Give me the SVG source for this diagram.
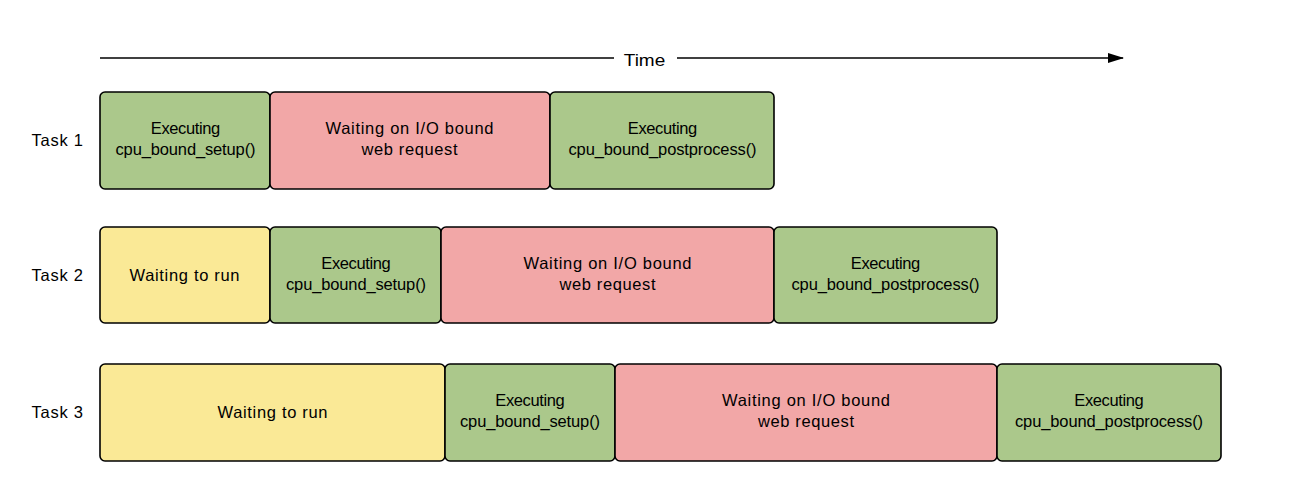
<svg xmlns="http://www.w3.org/2000/svg" width="1315" height="487" viewBox="0 0 1315 487">
<defs>
<style>
text{font-family:"Liberation Sans",Arial,sans-serif;font-size:16.5px;fill:#000;text-anchor:middle}
.lbl{text-anchor:start}
.box{stroke:#000;stroke-width:1.6}
.exec{fill:#abc88b}
.wait{fill:#f2a7a7}
.idle{fill:#fae996}
.axis{stroke:#000;stroke-width:1.3;fill:none}
</style>
<marker id="arr" viewBox="0 0 16 10" refX="15" refY="5" markerWidth="16" markerHeight="10" markerUnits="userSpaceOnUse" orient="auto">
<path d="M0,0 L16,5 L0,10 Z" fill="#000"/>
</marker>
</defs>
<rect width="1315" height="487" fill="#fff"/>
<g id="connectors">
<line class="axis" x1="100" y1="58" x2="614" y2="58"/>
<line class="axis" x1="677" y1="58" x2="1123" y2="58" marker-end="url(#arr)"/>
</g>
<g id="time-label"><text x="644.5" y="65.5" textLength="41.5" lengthAdjust="spacingAndGlyphs">Time</text></g>
<g id="task1-label"><text class="lbl" x="31.5" y="146" textLength="51.5">Task 1</text></g>
<g id="task2-label"><text class="lbl" x="31.5" y="281" textLength="51.5">Task 2</text></g>
<g id="task3-label"><text class="lbl" x="31.5" y="418" textLength="51.5">Task 3</text></g>

<g id="t1-exec-setup"><rect class="box exec" x="100" y="92" width="170" height="97" rx="5"/><text x="185.5" y="134" textLength="69.5">Executing</text><text x="185.5" y="155" textLength="140">cpu_bound_setup()</text></g>
<g id="t1-wait-io"><rect class="box wait" x="270" y="92" width="280" height="97" rx="5"/><text x="409.5" y="134" textLength="168">Waiting on I/O bound</text><text x="409.5" y="155" textLength="96">web request</text></g>
<g id="t1-exec-post"><rect class="box exec" x="550" y="92" width="224" height="97" rx="5"/><text x="662.5" y="134" textLength="69.5">Executing</text><text x="662.5" y="155" textLength="188">cpu_bound_postprocess()</text></g>

<g id="t2-wait-run"><rect class="box idle" x="100" y="227" width="170" height="96" rx="5"/><text x="184.5" y="281" textLength="110">Waiting to run</text></g>
<g id="t2-exec-setup"><rect class="box exec" x="270" y="227" width="171" height="96" rx="5"/><text x="356" y="268.5" textLength="69.5">Executing</text><text x="356" y="289.5" textLength="140">cpu_bound_setup()</text></g>
<g id="t2-wait-io"><rect class="box wait" x="441" y="227" width="333" height="96" rx="5"/><text x="607.5" y="268.5" textLength="168">Waiting on I/O bound</text><text x="607.5" y="289.5" textLength="96">web request</text></g>
<g id="t2-exec-post"><rect class="box exec" x="774" y="227" width="223" height="96" rx="5"/><text x="885.5" y="268.5" textLength="69.5">Executing</text><text x="885.5" y="289.5" textLength="188">cpu_bound_postprocess()</text></g>

<g id="t3-wait-run"><rect class="box idle" x="100" y="364" width="345" height="97" rx="5"/><text x="272.5" y="418" textLength="110">Waiting to run</text></g>
<g id="t3-exec-setup"><rect class="box exec" x="445" y="364" width="170" height="97" rx="5"/><text x="530" y="406" textLength="69.5">Executing</text><text x="530" y="427" textLength="140">cpu_bound_setup()</text></g>
<g id="t3-wait-io"><rect class="box wait" x="615" y="364" width="382" height="97" rx="5"/><text x="806" y="406" textLength="168">Waiting on I/O bound</text><text x="806" y="427" textLength="96">web request</text></g>
<g id="t3-exec-post"><rect class="box exec" x="997" y="364" width="224" height="97" rx="5"/><text x="1109" y="406" textLength="69.5">Executing</text><text x="1109" y="427" textLength="188">cpu_bound_postprocess()</text></g>
</svg>
